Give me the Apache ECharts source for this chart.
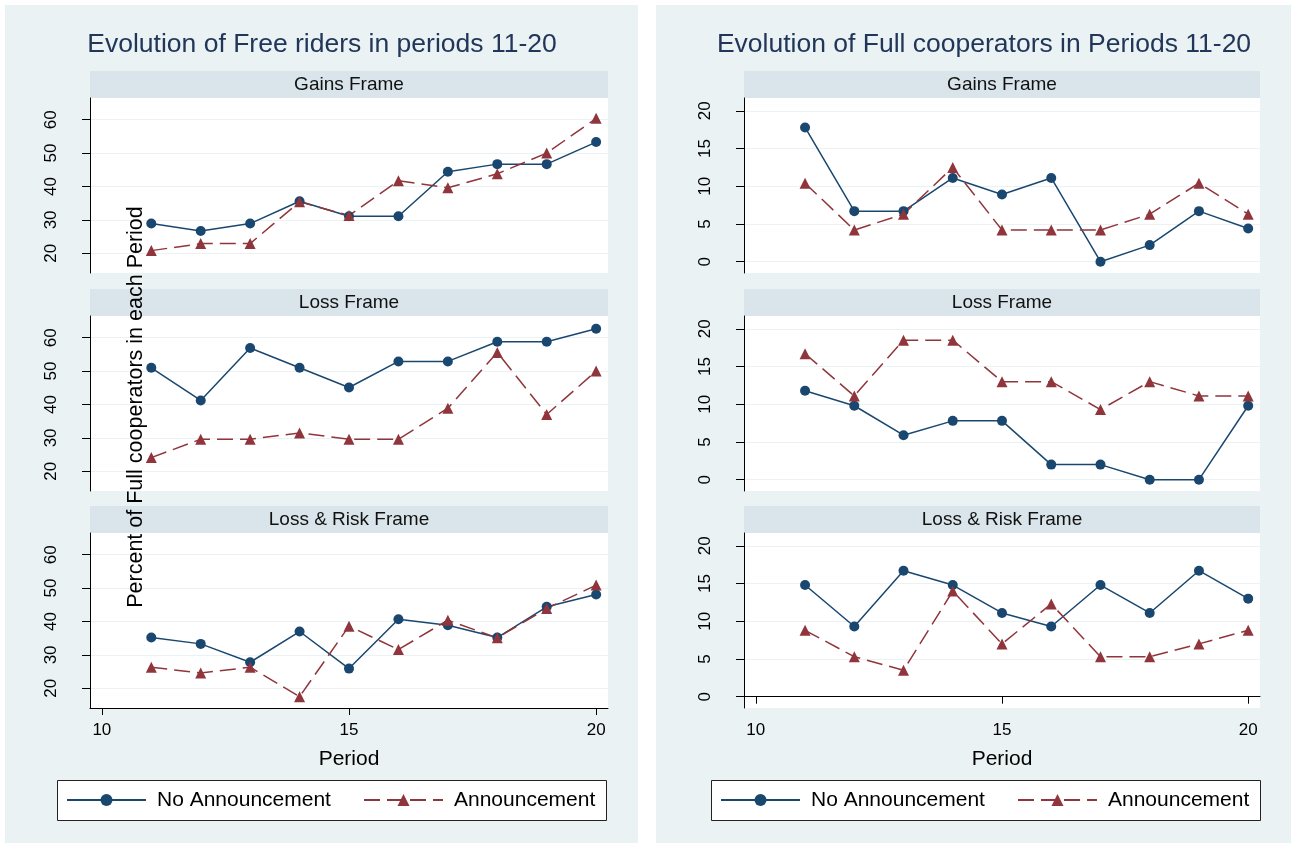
<!DOCTYPE html>
<html>
<head>
<meta charset="utf-8">
<script src="https://cdn.jsdelivr.net/npm/echarts@6/dist/echarts.min.js"></script>
<style>
  html, body { margin: 0; padding: 0; background: #ffffff; }
  #chart { width: 1291px; height: 848px; }
</style>
</head>
<body>
<div id="chart"></div>
<script>
// ---- data ----
const periods = [11, 12, 13, 14, 15, 16, 17, 18, 19, 20];
const frames = ['Gains Frame', 'Loss Frame', 'Loss & Risk Frame'];
const seriesNames = ['No Announcement', 'Announcement'];
const panelTitles = ['Evolution of Free riders in periods 11-20', 'Evolution of Full cooperators in Periods 11-20'];
const yTitle = 'Percent of Full cooperators in each Period';
const xTitle = 'Period';

// percent of free riders per period
const freeNoGains  = [28.9, 26.7, 28.9, 35.6, 31.1, 31.1, 44.4, 46.7, 46.7, 53.3];
const freeAnnGains = [20.8, 22.9, 22.9, 35.4, 31.3, 41.7, 39.6, 43.8, 50.0, 60.4];
const freeNoLoss   = [51.0, 41.2, 56.9, 51.0, 45.1, 52.9, 52.9, 58.8, 58.8, 62.7];
const freeAnnLoss  = [24.1, 29.6, 29.6, 31.5, 29.6, 29.6, 38.9, 55.6, 37.0, 50.0];
const freeNoRisk   = [35.2, 33.3, 27.8, 37.0, 25.9, 40.7, 38.9, 35.2, 44.4, 48.1];
const freeAnnRisk  = [26.3, 24.6, 26.3, 17.5, 38.6, 31.6, 40.4, 35.1, 43.9, 50.9];

// percent of full cooperators per period
const fullNoGains  = [17.8, 6.7, 6.7, 11.1, 8.9, 11.1, 0.0, 2.2, 6.7, 4.4];
const fullAnnGains = [10.4, 4.2, 6.3, 12.5, 4.2, 4.2, 4.2, 6.3, 10.4, 6.3];
const fullNoLoss   = [11.8, 9.8, 5.9, 7.8, 7.8, 2.0, 2.0, 0.0, 0.0, 9.8];
const fullAnnLoss  = [16.7, 11.1, 18.5, 18.5, 13.0, 13.0, 9.3, 13.0, 11.1, 11.1];
const fullNoRisk   = [14.8, 9.3, 16.7, 14.8, 11.1, 9.3, 14.8, 11.1, 16.7, 13.0];
const fullAnnRisk  = [8.8, 5.3, 3.5, 14.0, 7.0, 12.3, 5.3, 5.3, 7.0, 8.8];

// tick labels
const xTicks = [10, 15, 20];
const freeTicks = [20, 30, 40, 50, 60];
const fullTicks = [0, 5, 10, 15, 20];

// ---- layout & style ----
const FONT = 'Liberation Sans, Arial, sans-serif';
const BG = '#eaf2f3';
const STRIP = '#d9e5eb';
const BLUE = '#1a476f';
const RED = '#90353b';

const panels = [
  { left: 90,  width: 518, bgX: 5,   bgW: 633, titleX: 322, yMin: 14.1, yMax: 66.5, ticks: freeTicks,
    data: [[freeNoGains, freeAnnGains], [freeNoLoss, freeAnnLoss], [freeNoRisk, freeAnnRisk]] },
  { left: 744, width: 516, bgX: 656, bgW: 635, titleX: 984, yMin: -1.5, yMax: 21.7, ticks: fullTicks,
    data: [[fullNoGains, fullAnnGains], [fullNoLoss, fullAnnLoss], [fullNoRisk, fullAnnRisk]] }
];
const plotTops = [98, 316, 533];
const plotH = 175;
const stripH = 27;
const xMin = 9.76, xMax = 20.24;

const grids = [], xAxes = [], yAxes = [], series = [], graphics = [], titles = [], legends = [];

panels.forEach((p, pi) => {
  graphics.push({ type: 'rect', z: -10, shape: { x: p.bgX, y: 5, width: p.bgW, height: 838 }, style: { fill: BG } });
  titles.push({
    text: panelTitles[pi], left: p.titleX, top: 45, textAlign: 'center', textVerticalAlign: 'middle', padding: 0,
    textStyle: { fontFamily: FONT, fontSize: 26.5, fontWeight: 'normal', color: '#22365a' }
  });

  frames.forEach((fname, fi) => {
    const idx = pi * 3 + fi;
    const top = plotTops[fi];
    const isBottom = fi === frames.length - 1;
    grids.push({ left: p.left, width: p.width, top: top, height: plotH, show: true, backgroundColor: '#ffffff', borderWidth: 0, containLabel: false });

    graphics.push({ type: 'rect', z: -5, shape: { x: p.left, y: top - stripH, width: p.width, height: stripH }, style: { fill: STRIP } });
    graphics.push({ type: 'text', z: -4, x: p.left + p.width / 2, y: top - stripH / 2,
      style: { text: fname, font: '19px ' + FONT, fill: '#111111', align: 'center', verticalAlign: 'middle' } });

    xAxes.push({
      type: 'value', gridIndex: idx, min: xMin, max: xMax, show: isBottom,
      axisLine: { show: true, lineStyle: { color: '#000000', width: 1 } },
      axisTick: { show: true, length: 7, lineStyle: { color: '#000000' }, customValues: xTicks },
      axisLabel: { show: true, customValues: xTicks, fontFamily: FONT, fontSize: 17, color: '#000000', margin: 14 },
      splitLine: { show: false },
      name: isBottom ? xTitle : '', nameLocation: 'middle', nameGap: 41,
      nameTextStyle: { fontFamily: FONT, fontSize: 21, color: '#000000' }
    });
    yAxes.push({
      type: 'value', gridIndex: idx, min: p.yMin, max: p.yMax,
      axisLine: { show: true, lineStyle: { color: '#000000', width: 1 } },
      axisTick: { show: true, length: 8, lineStyle: { color: '#000000' }, customValues: p.ticks },
      axisLabel: { show: true, customValues: p.ticks, rotate: 90, fontFamily: FONT, fontSize: 17, color: '#000000', margin: 30 },
      splitLine: { show: true, lineStyle: { color: BG, width: 1 } }
    });

    const pair = p.data[fi];
    series.push({
      name: seriesNames[0], type: 'line', xAxisIndex: idx, yAxisIndex: idx, clip: false,
      data: periods.map((x, i) => [x, pair[0][i]]),
      symbol: 'circle', symbolSize: 10,
      lineStyle: { color: BLUE, width: 1.5, type: 'solid' },
      itemStyle: { color: BLUE }
    });
    series.push({
      name: seriesNames[1], type: 'line', xAxisIndex: idx, yAxisIndex: idx, clip: false,
      data: periods.map((x, i) => [x, pair[1][i]]),
      symbol: 'triangle', symbolSize: 11,
      lineStyle: { color: RED, width: 1.5, type: [16, 7] },
      itemStyle: { color: RED }
    });
  });

  // legend box and entries
  const boxX = p.left - 33;
  graphics.push({ type: 'rect', z: -3, shape: { x: boxX + 0.5, y: 780.5, width: 549, height: 40 },
    style: { fill: '#ffffff', stroke: '#222222', lineWidth: 1 } });
  [[seriesNames[0], boxX + 9], [seriesNames[1], boxX + 306]].forEach(([nm, lx]) => {
    legends.push({
      data: [nm], left: lx, top: 789, padding: 0, itemWidth: 79, itemHeight: 15,
      selectedMode: false,
      textStyle: { fontFamily: FONT, fontSize: 21, color: '#000000', lineHeight: 22, padding: [0, 0, 0, 6] }
    });
  });
});

// shared y-axis title of the left panel
graphics.push({ type: 'text', z: 10, x: 136, y: 407, rotation: Math.PI / 2,
  style: { text: yTitle, font: '21.5px ' + FONT, fill: '#000000', align: 'center', verticalAlign: 'middle' } });

const chart = echarts.init(document.getElementById('chart'), null, { renderer: 'canvas' });
chart.setOption({
  animation: false,
  backgroundColor: '#ffffff',
  title: titles,
  legend: legends,
  grid: grids,
  xAxis: xAxes,
  yAxis: yAxes,
  series: series,
  graphic: graphics
});
</script>
</body>
</html>
